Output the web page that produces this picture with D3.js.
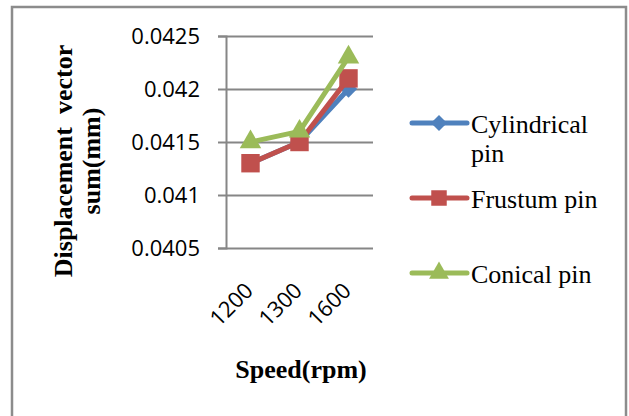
<!DOCTYPE html>
<html>
<head>
<meta charset="utf-8">
<script src="https://d3js.org/d3.v7.min.js"></script>
<style>
	body { margin: 0; background: #fff; }
	svg { display: block; }
	.tick-label { font-family: "Open Sans", sans-serif; font-size: 22px; fill: #000; }
	.title { font-family: "Liberation Serif", "Times New Roman", serif; font-size: 26px; font-weight: bold; fill: #000; }
	.legend-text { font-family: "Liberation Serif", "Times New Roman", serif; font-size: 26px; fill: #000; }
</style>
</head>
<body>
<div id="chart"></div>
<script>
	// data
	const speeds = ["1200", "1300", "1600"];
	const cylindrical = [0.0413, 0.0415, 0.0420];
	const frustum = [0.0413, 0.0415, 0.0421];
	const conical = [0.0415, 0.0416, 0.0423];
	const yTicks = [0.0405, 0.041, 0.0415, 0.042, 0.0425];
	const seriesNames = ["Cylindrical pin", "Frustum pin", "Conical pin"];

	const W = 629, H = 416;
	const plot = { left: 226, right: 373, top: 36, bottom: 248 };

	const svg = d3.select("#chart").append("svg")
		.attr("width", W)
		.attr("height", H);

	// outer chart frame (bottom edge falls outside the picture)
	svg.append("rect")
		.attr("x", 12).attr("y", 7)
		.attr("width", 614).attr("height", 430)
		.attr("fill", "none")
		.attr("stroke", "#8c8c8c")
		.attr("stroke-width", 2.5);

	const x = d3.scalePoint().domain(speeds).range([plot.left, plot.right]).padding(0.5);
	const y = d3.scaleLinear().domain([0.0405, 0.0425]).range([plot.bottom, plot.top]);

	// gridlines + y axis
	const yAxis = svg.append("g")
		.attr("transform", `translate(${plot.left},0)`)
		.call(d3.axisLeft(y).tickValues(yTicks).tickSize(8).tickPadding(18)
			.tickFormat(d => String(+d.toFixed(4))));
	yAxis.select(".domain").attr("stroke", "#868686").attr("stroke-width", 2);
	yAxis.selectAll(".tick line").attr("stroke", "#868686").attr("stroke-width", 2);
	yAxis.selectAll(".tick text").attr("class", "tick-label").attr("font-size", null).attr("font-family", null);
	yAxis.selectAll(".tick").append("line")
		.attr("x1", 0).attr("x2", plot.right - plot.left)
		.attr("stroke", "#868686").attr("stroke-width", 2);

	// x labels, rotated
	svg.append("g").selectAll("text")
		.data(speeds)
		.join("text")
		.attr("class", "tick-label")
		.attr("text-anchor", "end")
		.attr("transform", d => `translate(${x(d) + 4},292) rotate(-45)`)
		.text(d => d);

	// excel style diamond = square turned 45deg
	const series = [
		{ name: seriesNames[0], values: cylindrical, color: "#4F81BD", shape: d3.symbolSquare, size: 150, rot: 45 },
		{ name: seriesNames[1], values: frustum, color: "#C0504D", shape: d3.symbolSquare, size: 340, rot: 0 },
		{ name: seriesNames[2], values: conical, color: "#9BBB59", shape: d3.symbolTriangle, size: 200, rot: 0 }
	];

	const line = d3.line()
		.x((d, i) => x(speeds[i]))
		.y(d => y(d));

	series.forEach(s => {
		svg.append("path")
			.datum(s.values)
			.attr("fill", "none")
			.attr("stroke", s.color)
			.attr("stroke-width", 5)
			.attr("stroke-linejoin", "round")
			.attr("d", line);
		svg.append("g").selectAll("path")
			.data(s.values)
			.join("path")
			.attr("transform", (d, i) => `translate(${x(speeds[i])},${y(d)}) rotate(${s.rot})`)
			.attr("d", d3.symbol().type(s.shape).size(s.size))
			.attr("fill", s.color);
	});

	// axis titles
	svg.append("text")
		.attr("class", "title")
		.attr("text-anchor", "middle")
		.attr("x", 301).attr("y", 378)
		.text("Speed(rpm)");

	const yTitle = svg.append("text")
		.attr("class", "title")
		.attr("text-anchor", "middle")
		.attr("transform", "translate(72,161) rotate(-90)");
	yTitle.append("tspan").attr("x", 0).attr("y", 0).text("Displacement\u00a0 vector");
	yTitle.append("tspan").attr("x", 0).attr("y", 28).text("sum(mm)");

	// legend
	const legendRows = [
		{ lineY: 123, lines: ["Cylindrical", "pin"] },
		{ lineY: 198, lines: ["Frustum pin"] },
		{ lineY: 273, lines: ["Conical pin"] }
	];
	const legendSizes = [130, 240, 170];
	series.forEach((s, i) => {
		const row = legendRows[i];
		const g = svg.append("g");
		g.append("line")
			.attr("x1", 412).attr("x2", 467)
			.attr("y1", row.lineY).attr("y2", row.lineY)
			.attr("stroke", s.color).attr("stroke-width", 5)
			.attr("stroke-linecap", "round");
		g.append("path")
			.attr("transform", `translate(439,${row.lineY}) rotate(${s.rot})`)
			.attr("d", d3.symbol().type(s.shape).size(legendSizes[i]))
			.attr("fill", s.color);
		const t = g.append("text").attr("class", "legend-text");
		row.lines.forEach((ln, j) => {
			t.append("tspan").attr("x", 471).attr("y", row.lineY + 10 + j * 29).text(ln);
		});
	});
</script>
</body>
</html>
